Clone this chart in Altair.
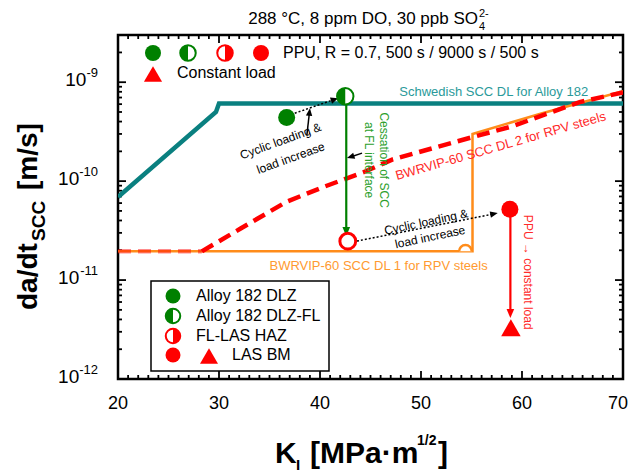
import math
import altair as alt
import pandas as pd

FONT = "Liberation Sans"
W, H = 505, 344
K_MIN, K_MAX = 20, 70
V_MIN, V_MAX = 1e-12, 3e-9

# ---------------- data ----------------
x_major = [20, 30, 40, 50, 60, 70]
x_minor = [k for k in range(21, 70) if k % 10 != 0]
y_decades = [1e-12, 1e-11, 1e-10, 1e-9]
y_exps = ["-12", "-11", "-10", "-9"]
y_minor = [m * d for d in [1e-12, 1e-11, 1e-10, 1e-9] for m in range(2, 10) if m * d <= V_MAX]

# Swedish SCC disposition line for Alloy 182
swe_k = [20, 29.7, 30.0, 70]
swe_v = [6.9e-11, 5.0e-10, 6.1e-10, 6.1e-10]
# BWRVIP-60 SCC DL 2 (dashed)
dl2_flat_k = [20, 28.3]
dl2_flat_v = [1.95e-11, 1.95e-11]
dl2_k = [28.3, 32.1, 36.7, 40.3, 44.3, 47.2, 54.9, 59.1, 65.7, 70]
dl2_v = [1.95e-11, 3.3e-11, 6.2e-11, 8.7e-11, 1.23e-10, 1.66e-10, 2.75e-10, 3.6e-10, 6.3e-10, 7.9e-10]
# BWRVIP-60 SCC DL 1
dl1_k = [20, 55.1, 55.1, 62, 70]
dl1_v = [1.95e-11, 1.95e-11, 3.0e-10, 4.86e-10, 8.1e-10]
hop_k = [54.4]
hop_v = [1.95e-11]

# measured points
dlz_k, dlz_v = [36.7], [4.4e-10]          # Alloy 182 DLZ
dlzfl_k, dlzfl_v = [42.5], [7.2e-10]      # Alloy 182 DLZ-FL
haz_k, haz_v = [42.75], [2.47e-11]        # FL-LAS HAZ
bm_k, bm_v = [58.8], [5.2e-11]            # LAS BM (PPU)
cl_k, cl_v = [58.9], [3.3e-12]            # LAS BM constant load

# ---------------- helpers ----------------
xs = alt.Scale(domain=[K_MIN, K_MAX], nice=False, zero=False)
ys = alt.Scale(type="log", domain=[V_MIN, V_MAX], nice=False)
LMAX, LMIN = math.log10(V_MAX), math.log10(V_MIN)


def X():
    return alt.X("k:Q", scale=xs, axis=None)


def Y():
    return alt.Y("v:Q", scale=ys, axis=None)


def to_px(k, v):
    return (k - K_MIN) / (K_MAX - K_MIN) * W, (LMAX - math.log10(v)) / (LMAX - LMIN) * H


def from_px(px, py):
    return K_MIN + px / W * (K_MAX - K_MIN), 10 ** (LMAX - py / H * (LMAX - LMIN))


LEFT_HALF = "M 0 -1 A 1 1 0 0 0 0 1 Z"
RIGHT_HALF = "M 0 -1 A 1 1 0 0 1 0 1 Z"
HEAD = "M 0 0 L 0.42 1 L -0.42 1 Z"
HOP = "M -1 0 A 1 1 0 0 1 1 0"


def line(k, v, **kw):
    df = pd.DataFrame({"k": k, "v": v, "i": list(range(len(k)))})
    return alt.Chart(df).mark_line(clip=True, **kw).encode(x=X(), y=Y(), order="i:Q")


def pts(k, v, shape, size, fill, stroke, sw=0.0):
    df = pd.DataFrame({"k": k, "v": v})
    return alt.Chart(df).mark_point(shape=shape, size=size, filled=True, fill=fill, stroke=stroke,
                                    strokeWidth=sw, opacity=1).encode(x=X(), y=Y())


def arrow(k0, v0, k1, v1, color, width, dash=None, head=300):
    x0, y0 = to_px(k0, v0)
    x1, y1 = to_px(k1, v1)
    ang = math.degrees(math.atan2(x1 - x0, -(y1 - y0))) % 360
    L = math.hypot(x1 - x0, y1 - y0)
    hl = math.sqrt(head) / 2 * 0.7
    ke, ve = from_px(x1 - (x1 - x0) / L * hl, y1 - (y1 - y0) / L * hl)
    kw = dict(color=color, strokeWidth=width)
    if dash:
        kw["strokeDash"] = dash
    ln = line([k0, ke], [v0, ve], **kw)
    hd = alt.Chart(pd.DataFrame({"k": [k1], "v": [v1]})).mark_point(
        shape=HEAD, size=head, filled=True, color=color, opacity=1, angle=ang, strokeWidth=0
    ).encode(x=X(), y=Y())
    return [ln, hd]


def txt(k, v, s, color="black", size=12, angle=0):
    df = pd.DataFrame({"k": [k], "v": [v], "t": [s]})
    return alt.Chart(df).mark_text(font=FONT, fontSize=size, color=color, angle=angle % 360,
                                   align="center", baseline="middle").encode(x=X(), y=Y(), text="t:N")


def ptxt(px, py, s, size, bold=False, align="left", baseline="alphabetic", angle=0, color="black"):
    df = pd.DataFrame({"t": [s]})
    return alt.Chart(df).mark_text(font=FONT, fontSize=size, fontWeight="bold" if bold else "normal",
                                   align=align, baseline=baseline, angle=angle % 360, color=color
                                   ).encode(x=alt.value(px), y=alt.value(py), text="t:N")


def ppt(px, py, shape, size, fill, stroke, sw=0.0):
    df = pd.DataFrame({"t": [0]})
    return alt.Chart(df).mark_point(shape=shape, size=size, filled=True, fill=fill, stroke=stroke,
                                    strokeWidth=sw, opacity=1).encode(x=alt.value(px), y=alt.value(py))


def half_marker_data(k, v, color, side, size):
    return [pts(k, v, "circle", size, "white", color, 2),
            pts(k, v, side, size, color, color, 0)]


def half_marker_px(px, py, color, side, size):
    return [ppt(px, py, "circle", size, "white", color, 2),
            ppt(px, py, side, size, color, color, 0)]


GREEN = "#008000"
RED = "#ff0000"
TEAL = "#0a8080"
ORANGE = "#ff8c1a"

layers = []

# ---------------- ticks (inward) ----------------
def xticks(vals, ln):
    df = pd.DataFrame({"k": vals})
    b = alt.Chart(df).mark_rule(color="black", strokeWidth=1.8).encode(x=X(), y=alt.value(H), y2=alt.value(H - ln))
    t = alt.Chart(df).mark_rule(color="black", strokeWidth=1.8).encode(x=X(), y=alt.value(0), y2=alt.value(ln))
    return [b, t]


def yticks(vals, ln):
    df = pd.DataFrame({"v": vals})
    l = alt.Chart(df).mark_rule(color="black", strokeWidth=1.8).encode(y=Y(), x=alt.value(0), x2=alt.value(ln))
    r = alt.Chart(df).mark_rule(color="black", strokeWidth=1.8).encode(y=Y(), x=alt.value(W), x2=alt.value(W - ln))
    return [l, r]


layers += xticks(x_major, 8) + xticks(x_minor, 4) + yticks(y_decades, 8) + yticks(y_minor, 4)

# ---------------- disposition lines ----------------
layers.append(line(swe_k, swe_v, color=TEAL, strokeWidth=4.5, strokeJoin="miter"))
layers.append(line(dl1_k, dl1_v, color=ORANGE, strokeWidth=2.5))
layers.append(line(dl2_flat_k, dl2_flat_v, color=RED, strokeWidth=4.5, strokeDash=[13, 7], opacity=0.45))
layers.append(line(dl2_k, dl2_v, color=RED, strokeWidth=4.5, strokeDash=[13, 7]))
layers.append(pts(hop_k, hop_v, HOP, 160, "white", ORANGE, 2.5))

# ---------------- arrows ----------------
layers += arrow(37.5, 4.86e-10, 41.8, 6.9e-10, "black", 1.5, dash=[2, 2], head=230)
layers += arrow(43.66, 2.48e-11, 57.6, 4.75e-11, "black", 1.5, dash=[2, 2], head=230)
layers += arrow(42.6, 7.05e-10, 42.6, 2.78e-11, GREEN, 2.2, head=330)
layers += arrow(58.85, 5.2e-11, 58.85, 4.13e-12, RED, 2.2, head=330)
layers += arrow(38.7, 2.92e-10, 39.0, 5.46e-10, "black", 1.5, head=230)
layers += arrow(44.16, 1.92e-10, 42.67, 1.71e-10, "black", 1.5, head=230)

# ---------------- measured points ----------------
layers.append(pts(dlz_k, dlz_v, "circle", 289, GREEN, GREEN, 0))
layers += half_marker_data(dlzfl_k, dlzfl_v, GREEN, LEFT_HALF, 270)
layers.append(pts(haz_k, haz_v, "circle", 250, "white", RED, 3))
layers.append(pts(bm_k, bm_v, "circle", 289, RED, RED, 0))
layers.append(pts(cl_k, cl_v, "triangle-up", 380, RED, RED, 0))

# ---------------- annotations ----------------
layers.append(txt(57.2, 7.93e-10, "Schwedish SCC DL for Alloy 182", "#2a9a9a", 13))
layers.append(txt(57.9, 2.26e-10, "BWRVIP-60 SCC DL 2 for RPV steels", "#ff2a2a", 13, -16))
layers.append(txt(45.8, 1.38e-11, "BWRVIP-60 SCC DL 1 for RPV steels", "#ff9a30", 13))
layers.append(txt(36.1, 2.54e-10, "Cyclic loading &", "black", 12, -20))
layers.append(txt(37.1, 1.71e-10, "load increase", "black", 12, -20))
layers.append(txt(46.3, 1.63e-10, "Cessation of SCC", "#2ca02c", 12, 90))
layers.append(txt(44.85, 1.63e-10, "at FL interface", "#2ca02c", 12, 90))
layers.append(txt(50.5, 3.86e-11, "Cyclic loading &", "black", 12, -12))
layers.append(txt(50.9, 2.72e-11, "load increase", "black", 12, -12))
layers.append(txt(60.6, 1.2e-11, "PPU \u2192 constant load", "#ff2a2a", 12, 90))

# ---------------- top legend ----------------
layers.append(ppt(35, 18, "circle", 256, GREEN, GREEN, 0))
layers += half_marker_px(70, 18, GREEN, LEFT_HALF, 240)
layers += half_marker_px(107, 18, RED, RIGHT_HALF, 240)
layers.append(ppt(143, 18, "circle", 256, RED, RED, 0))
layers.append(ptxt(165, 18, "PPU, R = 0.7, 500 s / 9000 s / 500 s", 16, baseline="middle"))
layers.append(ppt(35, 39, "triangle-up", 330, RED, RED, 0))
layers.append(ptxt(59, 38, "Constant load", 16, baseline="middle"))

# ---------------- bottom legend box ----------------
box = alt.Chart(pd.DataFrame({"t": [0]})).mark_rect(fill="white", stroke="black", strokeWidth=1.5).encode(
    x=alt.value(33), x2=alt.value(211), y=alt.value(246), y2=alt.value(336))
layers.append(box)
layers.append(ppt(55, 261, "circle", 225, GREEN, GREEN, 0))
layers.append(ptxt(78, 261, "Alloy 182 DLZ", 16, baseline="middle"))
layers += half_marker_px(55, 281, GREEN, LEFT_HALF, 210)
layers.append(ptxt(78, 281, "Alloy 182 DLZ-FL", 16, baseline="middle"))
layers += half_marker_px(55, 301, RED, RIGHT_HALF, 210)
layers.append(ptxt(78, 301, "FL-LAS HAZ", 16, baseline="middle"))
layers.append(ppt(55, 320, "circle", 225, RED, RED, 0))
layers.append(ppt(91, 321, "triangle-up", 324, RED, RED, 0))
layers.append(ptxt(114, 320, "LAS BM", 16, baseline="middle"))

# ---------------- tick labels ----------------
for k in x_major:
    df = pd.DataFrame({"k": [k], "t": [str(k)]})
    layers.append(alt.Chart(df).mark_text(font=FONT, fontSize=18, align="center", baseline="middle",
                                          dx=-5 if k == K_MAX else 0,
                                          color="black").encode(x=X(), y=alt.value(369), text="t:N"))

CW = {"-": 0.333}
for v, e in zip(y_decades, y_exps):
    ew = sum(CW.get(c, 0.556) for c in e) * 13
    d1 = pd.DataFrame({"v": [v], "t": ["10"]})
    d2 = pd.DataFrame({"v": [v], "t": [e]})
    layers.append(alt.Chart(d1).mark_text(font=FONT, fontSize=19, align="right", baseline="middle", dy=-2,
                                          color="black").encode(x=alt.value(-20 - ew), y=Y(), text="t:N"))
    layers.append(alt.Chart(d2).mark_text(font=FONT, fontSize=13, align="right", baseline="middle", dy=-9,
                                          color="black").encode(x=alt.value(-20), y=Y(), text="t:N"))

# ---------------- titles ----------------
layers.append(ptxt(360, -11, "288 \u00b0C, 8 ppm DO, 30 ppb SO", 17, align="right"))
layers.append(ptxt(361, -18, "2-", 11))
layers.append(ptxt(361, -5, "4", 11))

layers.append(ptxt(157, 428, "K", 30, bold=True))
layers.append(ptxt(178, 435, "I", 15, bold=True))
layers.append(ptxt(192, 428, "[MPa\u00b7m", 30, bold=True))
layers.append(ptxt(299, 410, "1/2", 14, bold=True))
layers.append(ptxt(320, 428, "]", 30, bold=True))

layers.append(ptxt(-81, 275, "da/dt", 28, bold=True, angle=270))
layers.append(ptxt(-73, 206, "SCC", 19, bold=True, angle=270))
layers.append(ptxt(-81, 155, "[m/s]", 28, bold=True, angle=270))

chart = alt.layer(*layers).properties(
    width=W, height=H,
    autosize=alt.AutoSizeParams(type="none"),
    padding={"left": 118, "top": 35, "right": 8, "bottom": 93},
).configure_view(stroke="black", strokeWidth=2.5)

chart.save("out.html", embed_options={"renderer": "svg", "actions": False})
